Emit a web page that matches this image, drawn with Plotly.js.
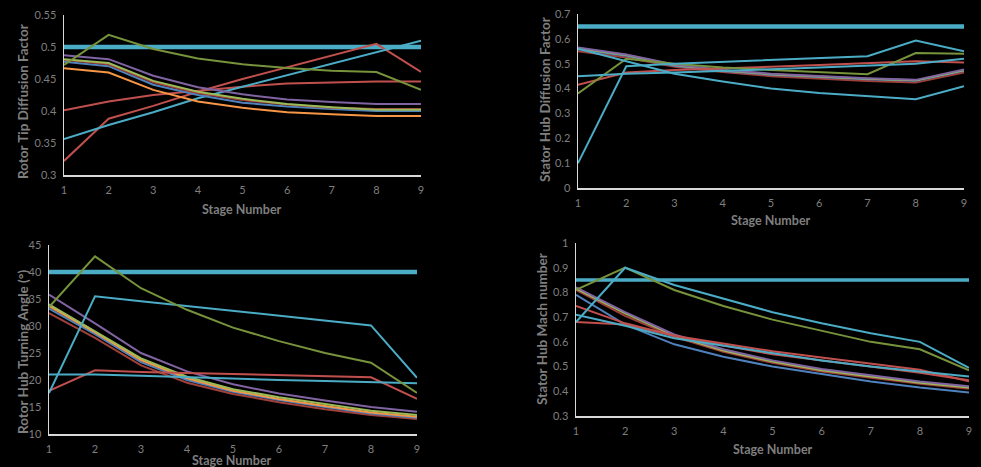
<!DOCTYPE html>
<html>
<head>
<meta charset="utf-8">
<script src="https://cdn.plot.ly/plotly-3.0.1.min.js"></script>
<style>html,body{margin:0;padding:0;background:#000;}#chart{width:981px;height:467px;}</style>
</head>
<body>
<div id="chart"></div>
<script>
// ---------- data ----------
const stages = [1, 2, 3, 4, 5, 6, 7, 8, 9];

// Panel 1: Rotor Tip Diffusion Factor
const rtdLimit      = [0.5, 0.5, 0.5, 0.5, 0.5, 0.5, 0.5, 0.5, 0.5];
const rtdOlive      = [0.472, 0.519, 0.497, 0.482, 0.473, 0.467, 0.463, 0.461, 0.433];
const rtdPurple     = [0.487, 0.481, 0.455, 0.437, 0.426, 0.418, 0.414, 0.411, 0.411];
const rtdLightGreen = [0.481, 0.475, 0.447, 0.430, 0.419, 0.411, 0.406, 0.402, 0.402];
const rtdBrown      = [0.480, 0.473, 0.445, 0.428, 0.417, 0.410, 0.405, 0.403, 0.403];
const rtdBlue       = [0.477, 0.470, 0.441, 0.425, 0.413, 0.407, 0.403, 0.400, 0.400];
const rtdOrange     = [0.467, 0.460, 0.433, 0.415, 0.405, 0.398, 0.395, 0.392, 0.392];
const rtdRedA       = [0.401, 0.415, 0.425, 0.432, 0.438, 0.443, 0.445, 0.446, 0.446];
const rtdRedB       = [0.322, 0.388, 0.408, 0.430, 0.450, 0.468, 0.487, 0.505, 0.461];
const rtdAqua       = [0.356, 0.378, 0.398, 0.420, 0.438, 0.456, 0.474, 0.492, 0.510];

// Panel 2: Stator Hub Diffusion Factor
const shdLimit      = [0.65, 0.65, 0.65, 0.65, 0.65, 0.65, 0.65, 0.65, 0.65];
const shdAquaA      = [0.10, 0.49, 0.50, 0.507, 0.513, 0.52, 0.53, 0.593, 0.55];
const shdAquaB      = [0.45, 0.46, 0.465, 0.47, 0.478, 0.485, 0.492, 0.50, 0.52];
const shdAquaC      = [0.56, 0.51, 0.46, 0.428, 0.40, 0.382, 0.368, 0.357, 0.41];
const shdOlive      = [0.38, 0.52, 0.50, 0.485, 0.475, 0.465, 0.458, 0.543, 0.54];
const shdRed        = [0.415, 0.465, 0.475, 0.48, 0.488, 0.495, 0.503, 0.51, 0.505];
const shdPurple     = [0.565, 0.537, 0.497, 0.475, 0.46, 0.45, 0.442, 0.435, 0.477];
const shdLightGreen = [0.562, 0.535, 0.495, 0.473, 0.458, 0.448, 0.44, 0.433, 0.474];
const shdBlue       = [0.558, 0.532, 0.492, 0.471, 0.456, 0.446, 0.438, 0.431, 0.472];
const shdBrown      = [0.55, 0.525, 0.488, 0.467, 0.45, 0.44, 0.43, 0.424, 0.465];

// Panel 3: Rotor Hub Turning Angle
const rhtLimit      = [40, 40, 40, 40, 40, 40, 40, 40, 40];
const rhtOlive      = [33.5, 42.9, 37.0, 33.0, 29.7, 27.2, 25.0, 23.2, 17.6];
const rhtAquaA      = [17.6, 35.5, 34.6, 33.7, 32.8, 32.0, 31.0, 30.1, 20.4];
const rhtAquaB      = [21.0, 21.0, 20.8, 20.5, 20.3, 20.0, 19.8, 19.6, 19.4];
const rhtRed        = [18.0, 21.8, 21.5, 21.3, 21.2, 21.0, 20.8, 20.5, 16.5];
const rhtPurple     = [35.8, 30.5, 25.0, 21.6, 19.2, 17.5, 16.2, 15.0, 14.1];
const rhtLightGreen = [34.0, 29.0, 24.0, 20.6, 18.3, 16.8, 15.5, 14.3, 13.5];
const rhtOrange     = [33.7, 28.8, 23.7, 20.3, 18.0, 16.5, 15.2, 14.0, 13.2];
const rhtBlue       = [33.2, 28.5, 23.3, 20.0, 17.8, 16.3, 15.0, 13.8, 13.0];
const rhtBrown      = [32.4, 27.8, 22.7, 19.5, 17.4, 15.9, 14.6, 13.5, 12.8];

// Panel 4: Stator Hub Mach number
const shmLimit      = [0.85, 0.85, 0.85, 0.85, 0.85, 0.85, 0.85, 0.85, 0.85];
const shmOlive      = [0.81, 0.90, 0.81, 0.745, 0.69, 0.645, 0.60, 0.57, 0.485];
const shmAquaA      = [0.68, 0.90, 0.83, 0.775, 0.72, 0.675, 0.635, 0.60, 0.495];
const shmAquaB      = [0.71, 0.665, 0.615, 0.585, 0.555, 0.525, 0.50, 0.48, 0.46];
const shmRedA       = [0.745, 0.675, 0.625, 0.592, 0.562, 0.537, 0.512, 0.487, 0.44];
const shmRedB       = [0.68, 0.67, 0.625, 0.585, 0.55, 0.525, 0.50, 0.475, 0.445];
const shmBlue       = [0.79, 0.67, 0.59, 0.54, 0.50, 0.47, 0.44, 0.415, 0.395];
const shmPurple     = [0.82, 0.72, 0.63, 0.57, 0.525, 0.49, 0.465, 0.44, 0.42];
const shmLightGreen = [0.815, 0.715, 0.625, 0.565, 0.52, 0.485, 0.46, 0.435, 0.415];
const shmBrown      = [0.81, 0.705, 0.62, 0.56, 0.515, 0.48, 0.455, 0.43, 0.41];

// tick labels
const xTickLabels = ['1', '2', '3', '4', '5', '6', '7', '8', '9'];
const rtdTickVals = [0.3, 0.35, 0.4, 0.45, 0.5, 0.55];
const rtdTickText = ['0.3', '0.35', '0.4', '0.45', '0.5', '0.55'];
const shdTickVals = [0, 0.1, 0.2, 0.3, 0.4, 0.5, 0.6, 0.7];
const shdTickText = ['0', '0.1', '0.2', '0.3', '0.4', '0.5', '0.6', '0.7'];
const rhtTickVals = [10, 15, 20, 25, 30, 35, 40, 45];
const rhtTickText = ['10', '15', '20', '25', '30', '35', '40', '45'];
const shmTickVals = [0.3, 0.4, 0.5, 0.6, 0.7, 0.8, 0.9, 1];
const shmTickText = ['0.3', '0.4', '0.5', '0.6', '0.7', '0.8', '0.9', '1'];

// ---------- styles ----------
const C = {
  aqua: '#4BACC6', olive: '#77933C', lightGreen: '#9BBB59', purple: '#8064A2',
  blue: '#4F81BD', red: '#C0504D', orange: '#F79646', brown: '#A0403A'
};

function tr(y, color, xa, ya, w) {
  return { x: stages, y: y, type: 'scatter', mode: 'lines', xaxis: xa, yaxis: ya,
           line: { color: color, width: w || 2 }, hoverinfo: 'skip', showlegend: false };
}

const data = [
  tr(rtdLimit, C.aqua, 'x', 'y', 4.5),
  tr(rtdRedA, C.red, 'x', 'y'),
  tr(rtdRedB, C.red, 'x', 'y'),
  tr(rtdAqua, C.aqua, 'x', 'y'),
  tr(rtdOrange, C.orange, 'x', 'y'),
  tr(rtdBlue, C.blue, 'x', 'y'),
  tr(rtdBrown, C.brown, 'x', 'y'),
  tr(rtdLightGreen, C.lightGreen, 'x', 'y'),
  tr(rtdPurple, C.purple, 'x', 'y'),
  tr(rtdOlive, C.olive, 'x', 'y'),

  tr(shdLimit, C.aqua, 'x2', 'y2', 4.5),
  tr(shdBrown, C.brown, 'x2', 'y2'),
  tr(shdBlue, C.blue, 'x2', 'y2'),
  tr(shdLightGreen, C.lightGreen, 'x2', 'y2'),
  tr(shdPurple, C.purple, 'x2', 'y2'),
  tr(shdRed, C.red, 'x2', 'y2'),
  tr(shdOlive, C.olive, 'x2', 'y2'),
  tr(shdAquaB, C.aqua, 'x2', 'y2'),
  tr(shdAquaC, C.aqua, 'x2', 'y2'),
  tr(shdAquaA, C.aqua, 'x2', 'y2'),

  tr(rhtLimit, C.aqua, 'x3', 'y3', 4.5),
  tr(rhtBrown, C.brown, 'x3', 'y3'),
  tr(rhtBlue, C.blue, 'x3', 'y3'),
  tr(rhtOrange, C.orange, 'x3', 'y3'),
  tr(rhtLightGreen, C.lightGreen, 'x3', 'y3'),
  tr(rhtPurple, C.purple, 'x3', 'y3'),
  tr(rhtRed, C.red, 'x3', 'y3'),
  tr(rhtAquaB, C.aqua, 'x3', 'y3'),
  tr(rhtAquaA, C.aqua, 'x3', 'y3'),
  tr(rhtOlive, C.olive, 'x3', 'y3'),

  tr(shmLimit, C.aqua, 'x4', 'y4', 3.5),
  tr(shmBrown, C.brown, 'x4', 'y4'),
  tr(shmLightGreen, C.lightGreen, 'x4', 'y4'),
  tr(shmPurple, C.purple, 'x4', 'y4'),
  tr(shmBlue, C.blue, 'x4', 'y4'),
  tr(shmRedB, C.red, 'x4', 'y4'),
  tr(shmRedA, C.red, 'x4', 'y4'),
  tr(shmAquaB, C.aqua, 'x4', 'y4'),
  tr(shmOlive, C.olive, 'x4', 'y4'),
  tr(shmAquaA, C.aqua, 'x4', 'y4')
];

const tickFont = { family: 'Lato, "Open Sans", sans-serif', size: 11, color: '#7F7F7F' };

function xax(dom, anchor) {
  return { domain: dom, anchor: anchor, range: [1, 9], tickvals: stages, ticktext: xTickLabels,
           showgrid: false, zeroline: false, showline: true, linecolor: '#D9D9D9', linewidth: 1.5,
           ticks: '', ticklabelstandoff: 4, tickfont: tickFont, fixedrange: true };
}
function yax(dom, anchor, range, tv, tt) {
  return { domain: dom, anchor: anchor, range: range, tickvals: tv, ticktext: tt,
           showgrid: false, zeroline: false, showline: true, linecolor: '#D9D9D9', linewidth: 1.5,
           ticks: '', ticklabelstandoff: 4, tickfont: tickFont, fixedrange: true };
}

function ann(text, x, y, angle) {
  return { text: '<b>' + text + '</b>', xref: 'paper', yref: 'paper', x: x / 981, y: 1 - y / 467,
           xanchor: 'center', yanchor: 'middle', showarrow: false, textangle: angle || 0,
           font: { family: 'Lato, "Open Sans", sans-serif', size: angle ? 13.5 : 12.5, color: '#7F7F7F' } };
}

const layout = {
  width: 981, height: 467,
  margin: { l: 0, r: 0, t: 0, b: 0 },
  paper_bgcolor: '#000000', plot_bgcolor: '#000000',
  showlegend: false,
  xaxis:  xax([64 / 981, 421 / 981], 'y'),
  yaxis:  yax([1 - 175 / 467, 1 - 15 / 467], 'x', [0.3, 0.55], rtdTickVals, rtdTickText),
  xaxis2: xax([578 / 981, 964 / 981], 'y2'),
  yaxis2: yax([1 - 188 / 467, 1 - 14 / 467], 'x2', [0, 0.7], shdTickVals, shdTickText),
  xaxis3: xax([49 / 981, 417 / 981], 'y3'),
  yaxis3: yax([1 - 434 / 467, 1 - 245 / 467], 'x3', [10, 45], rhtTickVals, rhtTickText),
  xaxis4: xax([576 / 981, 969 / 981], 'y4'),
  yaxis4: yax([1 - 416 / 467, 1 - 243 / 467], 'x4', [0.3, 1], shmTickVals, shmTickText),
  annotations: [
    ann('Stage Number', 242, 209),
    ann('Rotor Tip Diffusion Factor', 23, 102, -90),
    ann('Stage Number', 771, 220),
    ann('Stator Hub Diffusion Factor', 545, 100, -90),
    ann('Stage Number', 232, 460),
    ann('Rotor Hub Turning Angle (°)', 23, 352, -90),
    ann('Stage Number', 773, 449),
    ann('Stator Hub Mach number', 542, 329, -90)
  ]
};

Plotly.newPlot('chart', data, layout, { displayModeBar: false, staticPlot: true });
</script>
</body>
</html>
